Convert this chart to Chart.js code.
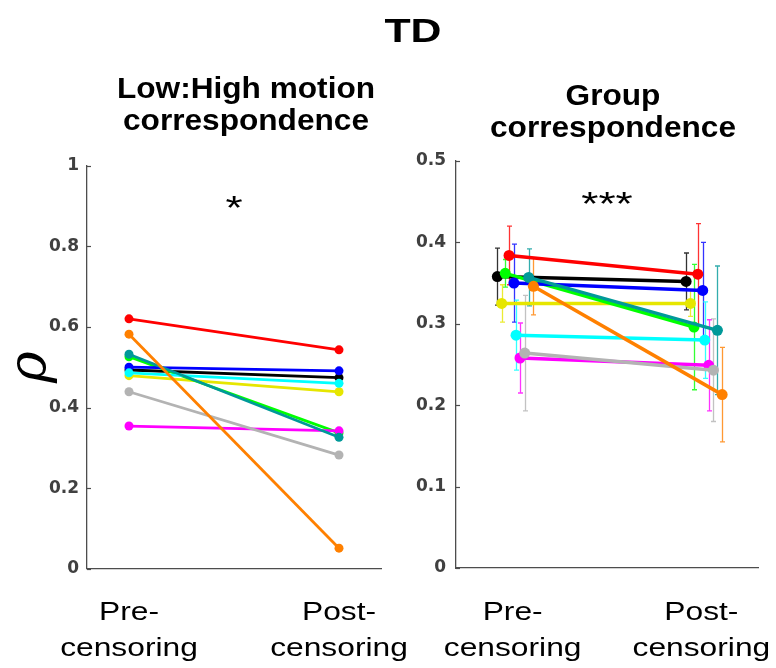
<!DOCTYPE html>
<html>
<head>
<meta charset="utf-8">
<title>TD</title>
<script src="https://cdn.jsdelivr.net/npm/chart.js@4.4.1/dist/chart.umd.min.js"></script>
<style>
  html, body { margin: 0; padding: 0; background: #fff; }
  #wrap { position: relative; width: 776px; height: 668px; overflow: hidden; background: #fff; }
  #wrap canvas { position: absolute; left: 0; top: 0; }
  .lbl {
    position: absolute;
    font-family: 'Liberation Sans', Arial, sans-serif;
    font-weight: bold;
    color: #000;
    white-space: nowrap;
    line-height: 1;
    transform-origin: 50% 50%;
  }
</style>
</head>
<body>
<div id="wrap">
  <canvas id="leftPanel" width="776" height="668"></canvas>
  <canvas id="rightPanel" width="776" height="668"></canvas>
  <div class="lbl" id="mainTitle" style="font-size:34px;left:413px;top:13px;transform:translateX(-50%) scaleX(1.26);">TD</div>
  <div class="lbl" style="font-size:29px;left:246px;top:74px;transform:translateX(-50%) scaleX(1.09);">Low:High motion</div>
  <div class="lbl" style="font-size:29px;left:246px;top:106px;transform:translateX(-50%) scaleX(1.09);">correspondence</div>
  <div class="lbl" style="font-size:29px;left:613px;top:80.5px;transform:translateX(-50%) scaleX(1.09);">Group</div>
  <div class="lbl" style="font-size:29px;left:613px;top:112.5px;transform:translateX(-50%) scaleX(1.09);">correspondence</div>
</div>
<script>
// Condition labels on the x axis (x = 1, x = 2)
const conditionLabels = [['Pre-', 'censoring'], ['Post-', 'censoring']];

// Per-subject rho, Low:High motion correspondence
const lowHighPre  = [0.493, 0.479, 0.526, 0.620, 0.500, 0.486, 0.354, 0.439, 0.532, 0.582];
const lowHighPost = [0.474, 0.439, 0.337, 0.543, 0.491, 0.460, 0.342, 0.282, 0.326, 0.051];

// Per-subject rho (mean and error), group correspondence
const groupPre     = [0.358, 0.325, 0.362, 0.384, 0.350, 0.286, 0.258, 0.264, 0.357, 0.346];
const groupPost    = [0.352, 0.325, 0.296, 0.361, 0.341, 0.280, 0.249, 0.243, 0.292, 0.213];
const groupPreErr  = [0.035, 0.023, 0.017, 0.036, 0.048, 0.043, 0.043, 0.071, 0.035, 0.035];
const groupPostErr = [0.035, 0.016, 0.077, 0.062, 0.059, 0.047, 0.056, 0.063, 0.079, 0.058];
// Horizontal offset of each subject around its condition, group panel
const groupJitter  = [-0.081, -0.058, -0.039, -0.019, 0.007, 0.018, 0.039, 0.064, 0.085, 0.110];

// Significance markers and the rho level they sit at
const lowHighStars = '*';
const lowHighStarLevel = 0.9;
const groupStars = '***';
const groupStarLevel = 0.45;

// Subject colours (drawing order: later ones on top)
const subjectColors = ['#000000', '#e6e600', '#00ff00', '#ff0000', '#0000ff',
                       '#00ffff', '#ff00ff', '#b3b3b3', '#009999', '#ff8000'];

const AXIS_COLOR = '#4d4d4d';
const TICK_FONT = { family: "'DejaVu Sans', sans-serif", weight: 'bold', size: 17 };

function buildDatasets(pre, post, jitter, lineWidth, radius) {
  return subjectColors.map((c, i) => ({
    data: [
      { x: 1 + (jitter ? jitter[i] : 0), y: pre[i] },
      { x: 2 + (jitter ? jitter[i] : 0), y: post[i] }
    ],
    borderColor: c,
    backgroundColor: c,
    pointBackgroundColor: c,
    pointBorderColor: c,
    borderWidth: lineWidth,
    pointRadius: radius,
    pointBorderWidth: 0,
    pointHoverRadius: radius,
    order: subjectColors.length - i,
    tension: 0
  }));
}

// Inward tick marks on the y axis, condition labels and significance stars
function decorations(stars, starLevel) {
  return {
    id: 'decorations',
    afterDraw(chart) {
      const { ctx, scales: { x, y } } = chart;
      ctx.save();
      // inward y ticks
      ctx.strokeStyle = AXIS_COLOR;
      ctx.lineWidth = 1.2;
      y.ticks.forEach(t => {
        const py = Math.round(y.getPixelForValue(t.value)) + 0.5;
        ctx.beginPath();
        ctx.moveTo(x.left, py);
        ctx.lineTo(x.left + 4, py);
        ctx.stroke();
      });
      // condition labels
      ctx.fillStyle = '#000';
      ctx.font = "25px 'Liberation Sans', Arial, sans-serif";
      ctx.textAlign = 'center';
      ctx.textBaseline = 'alphabetic';
      conditionLabels.forEach((lines, k) => {
        const px = x.getPixelForValue(k + 1);
        lines.forEach((line, j) => {
          ctx.save();
          ctx.translate(px, 620 + j * 36);
          ctx.scale(1.27, 1);
          ctx.fillText(line, 0, 0);
          ctx.restore();
        });
      });
      // significance stars
      ctx.font = "34px 'Liberation Sans', Arial, sans-serif";
      ctx.save();
      ctx.translate(x.getPixelForValue(1.5), y.getPixelForValue(starLevel) + 13);
      ctx.scale(1.3, 1);
      ctx.fillText(stars, 0, 0);
      ctx.restore();
      ctx.restore();
    }
  };
}

// Vertical error bars with caps, group panel
const errorBars = {
  id: 'errorBars',
  beforeDatasetsDraw(chart) {
    const { ctx, scales: { x, y } } = chart;
    ctx.save();
    ctx.lineWidth = 1.3;
    ctx.globalAlpha = 0.8;
    subjectColors.forEach((c, i) => {
      ctx.strokeStyle = c;
      [[1, groupPre[i], groupPreErr[i]], [2, groupPost[i], groupPostErr[i]]].forEach(([cx, v, e]) => {
        const px = Math.round(x.getPixelForValue(cx + groupJitter[i])) + 0.5;
        const top = y.getPixelForValue(v + e);
        const bot = y.getPixelForValue(v - e);
        ctx.beginPath();
        ctx.moveTo(px, top); ctx.lineTo(px, bot);
        ctx.moveTo(px - 2.5, top); ctx.lineTo(px + 2.5, top);
        ctx.moveTo(px - 2.5, bot); ctx.lineTo(px + 2.5, bot);
        ctx.stroke();
      });
    });
    ctx.restore();
  }
};

function axisOptions(xMin, xMax, yMax, yStep, yWidth, xHeight, labelPad, withTitle) {
  return {
    x: {
      type: 'linear', min: xMin, max: xMax,
      ticks: { display: false },
      grid: { display: false, drawTicks: false },
      border: { display: true, color: AXIS_COLOR, width: 1.3 },
      afterFit(s) { s.height = xHeight; }
    },
    y: {
      type: 'linear', min: 0, max: yMax,
      ticks: {
        stepSize: yStep, font: TICK_FONT, color: '#404040', padding: labelPad,
        callback: v => String(Number(v.toFixed(2)))
      },
      grid: { display: false, drawTicks: false },
      border: { display: true, color: AXIS_COLOR, width: 1.3 },
      title: withTitle ? {
        display: true, text: 'ρ', color: '#000',
        font: { family: "'DejaVu Serif', serif", style: 'italic', size: 54 },
        padding: { top: 0, bottom: 0 }
      } : { display: false },
      afterFit(s) { s.width = yWidth; }
    }
  };
}

const common = {
  responsive: false,
  animation: false,
  devicePixelRatio: 1,
  events: [],
  plugins: { legend: { display: false }, tooltip: { enabled: false } }
};

new Chart(document.getElementById('leftPanel'), {
  type: 'line',
  data: { datasets: buildDatasets(lowHighPre, lowHighPost, null, 2.8, 4.5) },
  options: Object.assign({}, common, {
    layout: { padding: { left: 0, top: 165.7, right: 395, bottom: 0 } },
    scales: axisOptions(0.8, 2.2, 1, 0.2, 87, 99.3, 8, true)
  }),
  plugins: [decorations(lowHighStars, lowHighStarLevel)]
});

new Chart(document.getElementById('rightPanel'), {
  type: 'line',
  data: { datasets: buildDatasets(groupPre, groupPost, groupJitter, 3.5, 5.5) },
  options: Object.assign({}, common, {
    layout: { padding: { left: 400, top: 161, right: 18, bottom: 0 } },
    scales: axisOptions(0.7, 2.3, 0.5, 0.1, 56, 100, 10, false)
  }),
  plugins: [errorBars, decorations(groupStars, groupStarLevel)]
});
</script>
</body>
</html>
